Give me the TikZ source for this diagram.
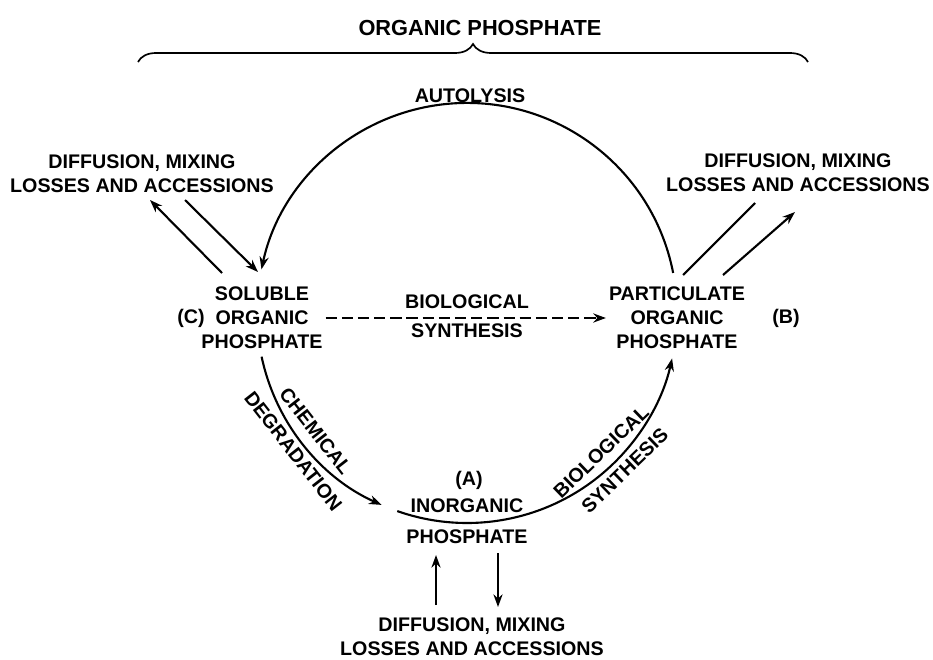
\documentclass[tikz,border=0pt]{standalone}
\usepackage{fontspec}
\setmainfont{Liberation Sans}
\usetikzlibrary{positioning,arrows.meta,calc,decorations.pathreplacing}

\begin{document}
\begin{tikzpicture}[
  x=0.025cm, y=0.025cm,
  lbl/.style={font=\fontsize{14}{17}\selectfont\bfseries, align=center, inner sep=2pt},
  flow/.style={-{Stealth[length=9pt,width=6.5pt]}, line width=1.5pt},
  plain/.style={line width=1.5pt},
  dashflow/.style={flow, dash pattern=on 8pt off 3.5pt}
]
\useasboundingbox (0,0) rectangle (933,-659);

% Title and brace
\node[lbl, font=\fontsize{15.5}{18}\selectfont\bfseries] (title) at (480,-28) {ORGANIC PHOSPHATE};
\coordinate (brL) at (138,-62);
\coordinate (brR) at (808,-62);
\draw[line width=1.2pt, decorate, decoration={brace, amplitude=0.45cm}] (brL) -- (brR);

% Pools
\node[lbl] (sol) at (262,-318) {SOLUBLE\\ORGANIC\\PHOSPHATE};
\node[lbl] (part) at (677,-318) {PARTICULATE\\ORGANIC\\PHOSPHATE};
\node[lbl] (inorg) at (467,-521) {INORGANIC\\[5pt]PHOSPHATE};
\node[lbl] (labC) at (191,-318) {(C)};
\node[lbl] (labB) at (786,-318) {(B)};
\node[lbl] (labA) at (469,-480) {(A)};

% Exchange with surroundings
\node[lbl] (exC) at (142,-174) {DIFFUSION, MIXING\\LOSSES AND ACCESSIONS};
\node[lbl] (exB) at (798,-173) {DIFFUSION, MIXING\\LOSSES AND ACCESSIONS};
\node[lbl] (exA) at (472,-637) {DIFFUSION, MIXING\\LOSSES AND ACCESSIONS};

% Cycle
\coordinate (ctr) at (467,-313);
\coordinate (autoS) at ($(ctr)+(11:210)$);
\coordinate (chemS) at ($(ctr)+(192:210)$);
\coordinate (bioS) at ($(ctr)+(250.6:210)$);
\draw[flow] (autoS) arc[start angle=11, end angle=168, radius=5.25cm];
\draw[flow] (chemS) arc[start angle=192, end angle=246, radius=5.25cm];
\draw[flow] (bioS) arc[start angle=250.6, end angle=347.5, radius=5.25cm];
\draw[dashflow] (sol.east) -- (part.west);

% Arc labels
\node[lbl] (auto) at (470,-96) {AUTOLYSIS};
\node[lbl] (bsyn) at (467,-316) {BIOLOGICAL\\[4pt]SYNTHESIS};
\node[lbl, rotate=-52] (chem) at ($(ctr)+(218:192)$) {CHEMICAL};
\node[lbl, rotate=-52] (degr) at ($(ctr)+(218.5:222)$) {DEGRADATION};
\node[lbl, rotate=44] (bio) at ($(ctr)+(314:193)$) {BIOLOGICAL};
\node[lbl, rotate=44] (syn) at ($(ctr)+(315:223)$) {SYNTHESIS};

% Exchange arrows
\draw[flow] ($(sol)+(-40,45)$) -- ($(exC)+(8,-26)$);
\draw[flow] ($(exC)+(43,-26)$) -- ($(sol)+(-4,46)$);
\draw[flow] ($(part)+(46,43)$) -- ($(exB)+(-3,-39)$);
\draw[plain] ($(exB)+(-43,-30)$) -- ($(part)+(6,43)$);
\draw[flow] ($(exA)+(-36,32)$) -- ($(inorg)+(-31,-34)$);
\draw[flow] ($(inorg)+(31,-32)$) -- ($(exA)+(26,30)$);

\end{tikzpicture}
\end{document}
